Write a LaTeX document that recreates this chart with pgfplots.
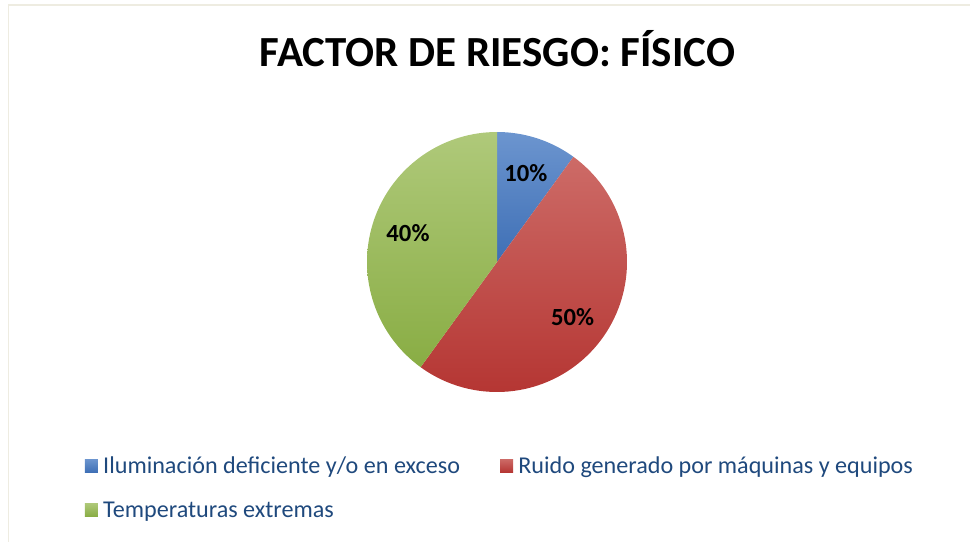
\documentclass[border=0pt]{standalone}
\usepackage{fontspec}
\setmainfont{Carlito}
\usepackage{pgfplots}
\pgfplotsset{compat=1.18}
\usepgfplotslibrary{polar}
\definecolor{txtblue}{HTML}{1F497D}
\definecolor{frame}{HTML}{EEECE1}
\definecolor{bluT}{HTML}{6C95CF}
\definecolor{bluB}{HTML}{3E6FB5}
\definecolor{redT}{HTML}{CD6B67}
\definecolor{redB}{HTML}{B53633}
\definecolor{grnT}{HTML}{AFC97A}
\definecolor{grnB}{HTML}{89AD44}
% data (percent)
\newcommand{\vA}{10}% Iluminacion
\newcommand{\vB}{50}% Ruido
\newcommand{\vC}{40}% Temperaturas
\begin{document}
\begin{tikzpicture}[x=0.75pt,y=0.75pt]
\useasboundingbox (0,0) rectangle (970,542);
\draw[frame, line width=1.2pt] (8.5,0) -- (8.5,537) -- (970,537);
\node[font=\fontsize{32.2}{36}\selectfont\bfseries, anchor=base] at (497.5,475) {FACTOR DE RIESGO: FÍSICO};
\coordinate (pc) at (497,280);
\begin{polaraxis}[
  at={(pc)}, anchor=center,
  width=195pt, scale only axis, hide axis,
  ymin=0, ymax=1,
  legend columns=2,
  legend style={draw=none, fill=none, inner sep=0pt, outer sep=0pt,
    at={(-1.085,-0.245)}, anchor=north west,
    font=\fontsize{18.1}{21}\selectfont, text=txtblue,
    nodes={inner sep=0pt, text height=13pt, text depth=4pt, anchor=base west},
    row sep=16pt,
    /tikz/every odd column/.append style={column sep=4pt},
    /tikz/every even column/.append style={column sep=30pt}},
  legend cell align=left,
  legend image code/.code={\fill[#1] (0pt,0.5pt) rectangle (9.75pt,10.5pt);},
]
\addplot[draw=none, top color=bluT, bottom color=bluB, domain={90-3.6*\vA}:90, samples=30] {1} -- (axis cs:0,0) -- cycle;
\addlegendentry{Iluminación deficiente y/o en exceso}
\addplot[draw=none, top color=redT, bottom color=redB, domain={90-3.6*(\vA+\vB)}:{90-3.6*\vA}, samples=80] {1} -- (axis cs:0,0) -- cycle;
\addlegendentry{Ruido generado por máquinas y equipos}
\addplot[draw=none, top color=grnT, bottom color=grnB, domain={90-3.6*(\vA+\vB+\vC)}:{90-3.6*(\vA+\vB)}, samples=70] {1} -- (axis cs:0,0) -- cycle;
\addlegendentry{Temperaturas extremas}
\node[font=\fontsize{18.5}{22}\selectfont\bfseries] at (axis cs:{90-3.6*\vA/2},0.72) {10\%};
\node[font=\fontsize{18.5}{22}\selectfont\bfseries] at (axis cs:{90-3.6*(\vA+\vB/2)},0.72) {50\%};
\node[font=\fontsize{18.5}{22}\selectfont\bfseries] at (axis cs:{90-3.6*(\vA+\vB+\vC/2)},0.72) {40\%};
\end{polaraxis}
\end{tikzpicture}
\end{document}
